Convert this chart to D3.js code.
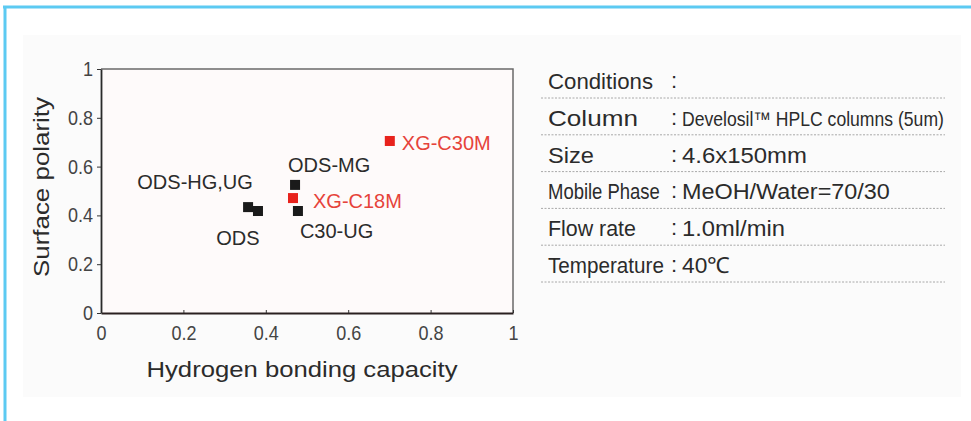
<!DOCTYPE html>
<html>
<head>
<meta charset="utf-8">
<script src="https://cdn.jsdelivr.net/npm/d3@7"></script>
<style>
  html, body { margin: 0; padding: 0; background: #ffffff; }
  svg { display: block; }
  text { font-family: "Liberation Sans", Arial, sans-serif; }
</style>
</head>
<body>
<svg id="chart" width="971" height="421"></svg>
<script>
// ---- data ----
const names = ["ODS-HG,UG", "ODS", "ODS-MG", "C30-UG", "XG-C18M", "XG-C30M"];
const xValues = [0.357, 0.381, 0.471, 0.478, 0.466, 0.701];
const yValues = [0.434, 0.418, 0.525, 0.418, 0.471, 0.705];
const highlight = [false, false, false, false, true, true];
const xTicks = [0, 0.2, 0.4, 0.6, 0.8, 1];
const yTicks = [0, 0.2, 0.4, 0.6, 0.8, 1];
const xTitle = "Hydrogen bonding capacity";
const yTitle = "Surface polarity";
const condLabels = ["Conditions", "Column", "Size", "Mobile Phase", "Flow rate", "Temperature"];
const condValues = ["", "Develosil\u2122 HPLC columns (5um)", "4.6x150mm", "MeOH/Water=70/30", "1.0ml/min", "40\u2103"];

const svg = d3.select("#chart");
const black = "#1a1a1a", red = "#e8221c", redText = "#e6433a", textCol = "#2b2b2b";

// frame
svg.append("rect").attr("x", 0).attr("y", 0).attr("width", 971).attr("height", 421).attr("fill", "#fff");
svg.append("rect").attr("x", 23).attr("y", 35).attr("width", 938).attr("height", 362).attr("fill", "#fbfbfb");
svg.append("line").attr("x1", 3).attr("x2", 971).attr("y1", 7).attr("y2", 7).attr("stroke", "#5ccaf2").attr("stroke-width", 3);
svg.append("line").attr("x1", 5).attr("x2", 5).attr("y1", 6).attr("y2", 421).attr("stroke", "#5ccaf2").attr("stroke-width", 3);

// scales
const x = d3.scaleLinear().domain([0, 1]).range([101, 513]);
const y = d3.scaleLinear().domain([0, 1]).range([313, 69]);

svg.append("rect").attr("x", x(0)).attr("y", y(1)).attr("width", x(1) - x(0)).attr("height", y(0) - y(1)).attr("fill", "#fefafa");

// top & right border
svg.append("path").attr("d", `M${x(0)},${y(1)}H${x(1)}V${y(0)}`).attr("fill", "none").attr("stroke", "#6a6a6a").attr("stroke-width", 1.5);

const fmt = d => d === 0 ? "0" : d === 1 ? "1" : d3.format(".1f")(d);
const sx = 0.9;

const xAxis = d3.axisBottom(x).tickValues(xTicks).tickFormat(fmt).tickSizeInner(-3).tickSizeOuter(0).tickPadding(12);
const gx = svg.append("g").attr("transform", `translate(0,${y(0)})`).call(xAxis);
gx.attr("font-size", null).attr("font-family", null);
gx.select(".domain").attr("stroke", "#2a2020").attr("stroke-width", 1.8);
gx.selectAll(".tick line").attr("stroke", "#333");
gx.selectAll("text").style("font-size", "20px").attr("fill", "#444").attr("dy", "0.75em")
  .attr("transform", `scale(${sx},1)`).attr("x", 0);

const yAxis = d3.axisLeft(y).tickValues(yTicks).tickFormat(fmt).tickSizeInner(4).tickSizeOuter(0).tickPadding(4);
const gy = svg.append("g").attr("transform", `translate(${x(0)},0)`).call(yAxis);
gy.attr("font-size", null).attr("font-family", null);
gy.select(".domain").attr("stroke", "#2a2a2a").attr("stroke-width", 1.8);
gy.selectAll(".tick line").attr("stroke", "#333");
gy.selectAll("text").style("font-size", "20px").attr("fill", "#444").attr("x", -8 / sx).attr("transform", `scale(${sx},1)`);

// points
const order = [0, 1, 2, 3, 4, 5];
const sz = 10;
svg.append("g").selectAll("rect").data(order).join("rect")
  .attr("x", i => x(xValues[i]) - sz / 2)
  .attr("y", i => y(yValues[i]) - sz / 2)
  .attr("width", sz).attr("height", sz)
  .attr("fill", i => highlight[i] ? red : black);

// labels (offsets relative to point)
const labelOffsets = [[-53, -18], [-20, 34], [-7, -13], [2, 27], [20, 10], [12, 9]];
svg.append("g").selectAll("text").data(order).join("text")
  .attr("x", i => x(xValues[i]) + labelOffsets[i][0])
  .attr("y", i => y(yValues[i]) + labelOffsets[i][1])
  .attr("text-anchor", i => (i === 0 || i === 1) ? "middle" : "start")
  .attr("font-size", 20)
  .attr("fill", i => highlight[i] ? redText : textCol)
  .text(i => names[i]);

// axis titles
svg.append("text").attr("x", 302).attr("y", 377).attr("text-anchor", "middle")
  .attr("font-size", 22).attr("fill", textCol)
  .attr("textLength", 311).attr("lengthAdjust", "spacingAndGlyphs").text(xTitle);
svg.append("text").attr("transform", `translate(49,187) rotate(-90)`).attr("text-anchor", "middle")
  .attr("font-size", 22).attr("fill", textCol)
  .attr("textLength", 180).attr("lengthAdjust", "spacingAndGlyphs").text(yTitle);

// condensed text helper: scales horizontally to a target width
function fitText(parent, px, py, str, size, width) {
  const g = parent.append("g").attr("transform", `translate(${px},${py})`);
  const t = g.append("text").attr("x", 0).attr("y", 0).style("font-size", size + "px").attr("fill", textCol).text(str);
  const w = t.node().getComputedTextLength();
  g.attr("transform", `translate(${px},${py}) scale(${width / w},1)`);
  return g;
}

// conditions table
const rowY = d3.scalePoint().domain(condLabels).range([89, 273]);
const tbl = svg.append("g");
const labelWidths = [105, 90, 46, 112, 88, 116];
const valueWidths = [0, 262, 125, 208, 103, 48];
condLabels.forEach((lab, i) => {
  const yy = rowY(lab);
  fitText(tbl, 548, yy, lab, 22, labelWidths[i]);
  tbl.append("text").attr("x", 671).attr("y", yy - 1).attr("font-size", 22).attr("fill", textCol).text(":");
  if (condValues[i]) {
    fitText(tbl, 682, yy, condValues[i], i === 1 ? 20 : 22, valueWidths[i]);
  }
  tbl.append("line").attr("x1", 541).attr("x2", 945).attr("y1", yy + 9).attr("y2", yy + 9)
    .attr("stroke", "#a8a8a8").attr("stroke-width", 1).attr("stroke-dasharray", "2,1.5");
});
</script>
</body>
</html>
